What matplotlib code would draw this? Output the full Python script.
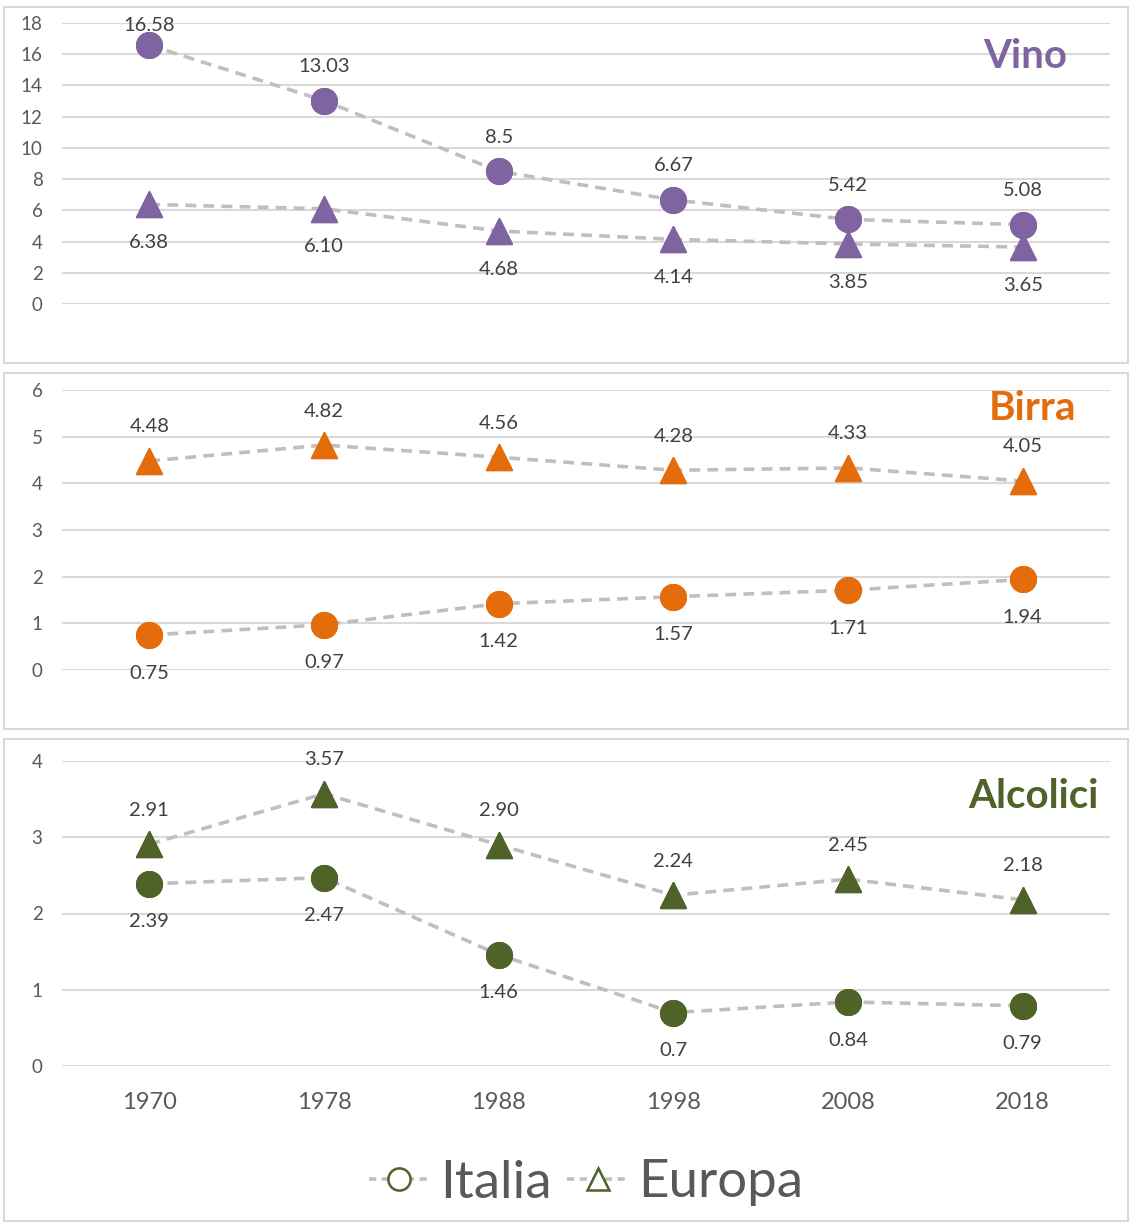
import matplotlib
matplotlib.use("Agg")
import matplotlib.pyplot as plt
from matplotlib.patches import Rectangle
from matplotlib.lines import Line2D

plt.rcParams['font.family'] = ['Lato', 'DejaVu Sans']

years = ["1970", "1978", "1988", "1998", "2008", "2018"]

vino_italia = [16.58, 13.03, 8.5, 6.67, 5.42, 5.08]
vino_europa = [6.38, 6.10, 4.68, 4.14, 3.85, 3.65]
vino_italia_lbl = ["16.58", "13.03", "8.5", "6.67", "5.42", "5.08"]
vino_europa_lbl = ["6.38", "6.10", "4.68", "4.14", "3.85", "3.65"]

birra_italia = [0.75, 0.97, 1.42, 1.57, 1.71, 1.94]
birra_europa = [4.48, 4.82, 4.56, 4.28, 4.33, 4.05]
birra_italia_lbl = ["0.75", "0.97", "1.42", "1.57", "1.71", "1.94"]
birra_europa_lbl = ["4.48", "4.82", "4.56", "4.28", "4.33", "4.05"]

alc_italia = [2.39, 2.47, 1.46, 0.7, 0.84, 0.79]
alc_europa = [2.91, 3.57, 2.90, 2.24, 2.45, 2.18]
alc_italia_lbl = ["2.39", "2.47", "1.46", "0.7", "0.84", "0.79"]
alc_europa_lbl = ["2.91", "3.57", "2.90", "2.24", "2.45", "2.18"]

W, H = 1130, 1223
fig = plt.figure(figsize=(W/100, H/100), dpi=100)

GRAY_TXT = "#595959"
GRID = "#D9D9D9"
LINE = "#BFBFBF"

def fy(px):
    return 1 - px / H

# panel boxes
for top, bot in [(7, 363), (373, 729), (739, 1221)]:
    fig.patches.append(Rectangle((4/W, fy(bot)), (1128-4)/W, (bot-top)/H,
                                 transform=fig.transFigure, fill=False,
                                 edgecolor=GRID, lw=1.5))

panels = [
    dict(top=23, bot=304, ymax=18, step=2, color="#8064A2", title="Vino",
         it=vino_italia, eu=vino_europa, itl=vino_italia_lbl, eul=vino_europa_lbl,
         it_up=True, tx=1025, ty=57),
    dict(top=390, bot=670, ymax=6, step=1, color="#E46C0A", title="Birra",
         it=birra_italia, eu=birra_europa, itl=birra_italia_lbl, eul=birra_europa_lbl,
         it_up=False, tx=1032, ty=409),
    dict(top=761, bot=1066, ymax=4, step=1, color="#4F6228", title="Alcolici",
         it=alc_italia, eu=alc_europa, itl=alc_italia_lbl, eul=alc_europa_lbl,
         it_up=False, tx=1033, ty=796),
]

x = [i + 0.5 for i in range(len(years))]
axes = []
for k, p in enumerate(panels):
    ax = fig.add_axes([62/W, fy(p['bot']), (1110-62)/W, (p['bot']-p['top'])/H])
    axes.append(ax)
    ax.set_xlim(0, 6)
    ax.set_ylim(0, p['ymax'])
    ax.set_yticks(range(0, p['ymax'] + 1, p['step']))
    ax.grid(axis='y', color=GRID, lw=1.5)
    ax.set_axisbelow(True)
    for s in ax.spines.values():
        s.set_visible(False)
    ax.tick_params(axis='y', length=0, pad=14, labelsize=13.5, labelcolor=GRAY_TXT)
    ax.tick_params(axis='x', length=0)
    if k == 2:
        ax.set_xticks(x)
        ax.set_xticklabels(years)
        ax.tick_params(axis='x', pad=19, labelsize=17, labelcolor=GRAY_TXT)
    else:
        ax.set_xticks([])
    c = p['color']
    ax.plot(x, p['it'], ls=(0, (3, 2)), color=LINE, lw=2.6, zorder=2,
            marker='o', ms=18.5, mfc=c, mec=c, clip_on=False)
    ax.plot(x, p['eu'], ls=(0, (3, 2)), color=LINE, lw=2.6, zorder=2,
            marker='^', ms=19, mfc=c, mec=c, clip_on=False)
    ax.plot(x, p['it'], ls='none', marker='o', ms=18.5, mfc=c, mec=c, zorder=3, clip_on=False)
    ax.plot(x, p['eu'], ls='none', marker='^', ms=19, mfc=c, mec=c, zorder=3, clip_on=False)
    up, down = 24.5, -27.5
    for xi, v, lbl in zip(x, p['it'], p['itl']):
        o = up if p['it_up'] else down
        if k == 0 and v > 16:
            o = 14
        ax.annotate(lbl, (xi, v), xytext=(0, o), textcoords='offset points',
                    ha='center', va='center', fontsize=14.5, color="#404040",
                    annotation_clip=False)
    for xi, v, lbl in zip(x, p['eu'], p['eul']):
        o = down if p['it_up'] else up
        ax.annotate(lbl, (xi, v), xytext=(0, o), textcoords='offset points',
                    ha='center', va='center', fontsize=14.5, color="#404040",
                    annotation_clip=False)
    fig.text(p['tx']/W, fy(p['ty']), p['title'], color=c, fontsize=29,
             fontweight='bold', ha='center', va='center')

green = "#4F6228"
h1 = Line2D([], [], ls=(0, (2, 1.5)), color=LINE, lw=2.6, marker='o', ms=16,
            mfc='white', mec=green, mew=1.8)
h2 = Line2D([], [], ls=(0, (2, 1.5)), color=LINE, lw=2.6, marker='^', ms=16,
            mfc='white', mec=green, mew=1.8)
leg = fig.legend([h1, h2], ["Italia", "Europa"], loc='center',
                 bbox_to_anchor=(586/W, fy(1183)), ncol=2, frameon=False,
                 fontsize=38, handlelength=1.15, handletextpad=0.2,
                 columnspacing=0.3, labelcolor=GRAY_TXT)

fig.savefig("out.png", dpi=100)
